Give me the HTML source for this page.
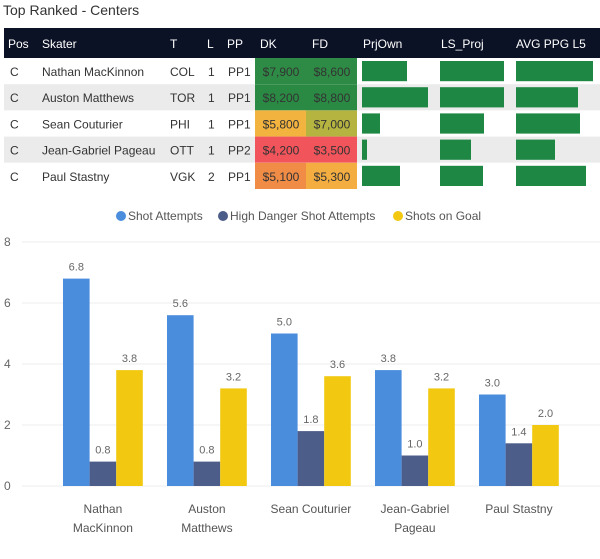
<!DOCTYPE html>
<html><head><meta charset="utf-8"><style>
body{margin:0;width:600px;height:559px;background:#fff;font-family:"Liberation Sans",sans-serif;overflow:hidden;position:relative}
.t{position:absolute;font-size:12px;color:#222;white-space:nowrap}
</style></head><body>
<div class="t" style="left:3px;top:2px;font-size:14px;color:#333">Top Ranked - Centers</div>
<svg id="tbl" width="600" height="200" style="position:absolute;left:0;top:0"></svg>
<svg id="ch" width="600" height="359" style="position:absolute;left:0;top:200px"></svg>
<script>
const players=["Nathan MacKinnon","Auston Matthews","Sean Couturier","Jean-Gabriel Pageau","Paul Stastny"];
const teams=["COL","TOR","PHI","OTT","VGK"];
const lines=["1","1","1","1","2"];
const pps=["PP1","PP1","PP1","PP2","PP1"];
const dk=["$7,900","$8,200","$5,800","$4,200","$5,100"];
const fd=["$8,600","$8,800","$7,000","$3,500","$5,300"];
const dkColors=["#2e8b45","#2a8a44","#f2b33f","#f2545b","#f08c46"];
const fdColors=["#2e8b45","#2a8a44","#b5b440","#f2545b","#f3ad40"];
const prjOwn=[45,66,18,5,38];
const lsProj=[64,64,44,31,43];
const avgPpg=[77,62,64,39,70];
const shotAttempts=[6.8,5.6,5.0,3.8,3.0];
const highDanger=[0.8,0.8,1.8,1.0,1.4];
const shotsOnGoal=[3.8,3.2,3.6,3.2,2.0];
const yTicks=[0,2,4,6,8];
const NS="http://www.w3.org/2000/svg";
function mk(p,tag,a,txt){const e=document.createElementNS(NS,tag);for(const k in a)e.setAttribute(k,a[k]);if(txt!==undefined)e.textContent=txt;p.appendChild(e);return e;}
const T=document.getElementById('tbl');
let e=mk(T,'rect',{x:4,y:28,width:596,height:30,fill:'#0c1226'});


const hd=[["Pos",8],["Skater",42],["T",170],["L",207],["PP",227],["DK",260],["FD",312],["PrjOwn",363],["LS_Proj",441],["AVG PPG L5",516]];
hd.forEach(h=>{e=mk(T,'text',{x:h[1],y:48,fill:'#fff','font-size':12},h[0]);

});
const rowH=26.2;
players.forEach((p,i)=>{const y=58+i*rowH;
 e=mk(T,'rect',{x:4,y:y,width:596,height:rowH,fill:i%2?'#ebebeb':'#fff'});
 
 
 const ty=y+18;
 mk(T,'text',{x:10,y:ty,'font-size':12,fill:'#333'},'C');
 mk(T,'text',{x:42,y:ty,'font-size':12,fill:'#333'},p);
 mk(T,'text',{x:170,y:ty,'font-size':12,fill:'#333'},teams[i]);
 mk(T,'text',{x:208,y:ty,'font-size':12,fill:'#333'},lines[i]);
 mk(T,'text',{x:228,y:ty,'font-size':12,fill:'#333'},pps[i]);
 mk(T,'rect',{x:255,y:y,width:51,height:rowH,fill:dkColors[i]});
 mk(T,'rect',{x:306,y:y,width:51,height:rowH,fill:fdColors[i]});
 mk(T,'text',{x:281,y:ty,'font-size':12,fill:'#333','text-anchor':'middle'},dk[i]);
 mk(T,'text',{x:332,y:ty,'font-size':12,fill:'#333','text-anchor':'middle'},fd[i]);
 [[362,prjOwn],[440,lsProj],[516,avgPpg]].forEach(c=>{e=mk(T,'rect',{x:c[0],y:y+3,width:c[1][i],height:rowH-6,fill:'#1e8744'});
 
 });
});
const C=document.getElementById('ch');
const y0=286, pu=30.5;
const ys=v=>y0-v*pu;
yTicks.forEach(t=>{mk(C,'line',{x1:22,x2:600,y1:ys(t),y2:ys(t),stroke:'#eee'});
 e=mk(C,'text',{x:4,y:ys(t)+4,'font-size':12,fill:'#666'},t);
 
 });
const series=[[shotAttempts,'#4a8ddc'],[highDanger,'#4c5d8a'],[shotsOnGoal,'#f2c811']];
const g0=63, step=104, bw=26.6;
players.forEach((p,i)=>{
 series.forEach((s,j)=>{const v=s[0][i];const x=g0+i*step+j*bw;
  e=mk(C,'rect',{x:x,y:ys(v),width:bw,height:v*pu,fill:s[1]});
  
  
  mk(C,'text',{x:x+bw/2,y:ys(v)-8,'font-size':11,fill:'#666','text-anchor':'middle'},v.toFixed(1));});
 const cx=g0+i*step+bw*1.5;
 const words=p==="Jean-Gabriel Pageau"?["Jean-Gabriel","Pageau"]:(p==="Sean Couturier"||p==="Paul Stastny")?[p]:p.split(' ');
 words.forEach((w,k)=>{e=mk(C,'text',{x:cx,y:313+k*19,'font-size':12,fill:'#555','text-anchor':'middle'},w);
 
 });
});
const leg=[["Shot Attempts",'#4a8ddc',116],["High Danger Shot Attempts",'#4c5d8a',218],["Shots on Goal",'#f2c811',393]];
leg.forEach(l=>{mk(C,'circle',{cx:l[2]+5,cy:16,r:5,fill:l[1]});
 e=mk(C,'text',{x:l[2]+12,y:20,'font-size':12,fill:'#555'},l[0]);
 
 });
</script>
</body></html>
